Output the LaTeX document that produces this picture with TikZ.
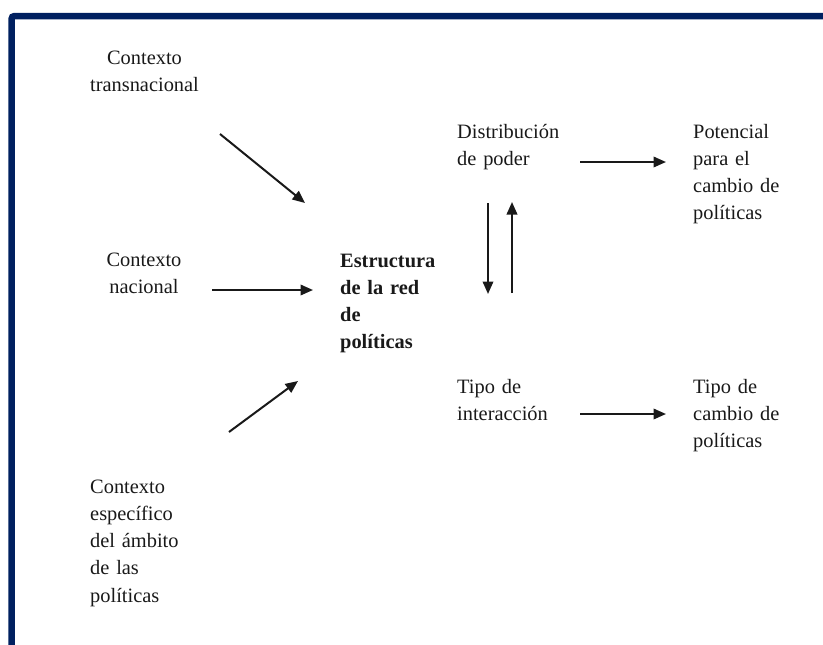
\documentclass[tikz,border=0pt]{standalone}
\usepackage{fontspec}
\setmainfont{Liberation Serif}
\usetikzlibrary{arrows.meta}
\definecolor{marco}{RGB}{0,32,96}
\definecolor{tinta}{RGB}{25,25,25}
\tikzset{
  texto/.style={anchor=base west, inner sep=0pt, text width=150pt, align=left,
    text=tinta, font=\fontsize{20.4}{27.3}\selectfont},
  textoc/.style={texto, anchor=base, align=center},
  flecha/.style={tinta, line width=2pt, -{Triangle[length=12.5pt,width=10.5pt]}}
}
\begin{document}
\begin{tikzpicture}[x=1pt,y=-1pt]
\useasboundingbox (0,0) rectangle (823,645);
\draw [marco, line width=6.5pt, rounded corners=3pt] (11.5,645) -- (11.5,16) -- (823,16);
% contextos
\node [textoc] (trans) at (144.5,64) {Contexto\\transnacional};
\node [textoc] (nac) at (144,266) {Contexto\\nacional};
\node [texto] (espec) at (90,493) {Contexto\\específico\\del ámbito\\de las\\políticas};
% red
\node [texto, font=\fontsize{20.4}{27.3}\selectfont\bfseries] (red) at (340,267) {Estructura\\de la red\\de\\políticas};
\node [texto] (poder) at (457,138) {Distribución\\de poder};
\node [texto] (inter) at (457,393) {Tipo de\\interacción};
\node [texto] (pot) at (693,138) {Potencial\\para el\\cambio de\\políticas};
\node [texto] (tipo) at (693,393) {Tipo de\\cambio de\\políticas};
% extremos de flechas
\coordinate (trans-a) at (220,134);
\coordinate (red-a) at (305,203);
\coordinate (nac-a) at (212,290);
\coordinate (red-b) at (313,290);
\coordinate (espec-a) at (229,432);
\coordinate (red-c) at (298,381);
\coordinate (poder-a) at (580,162);
\coordinate (pot-a) at (666,162);
\coordinate (inter-a) at (580,414);
\coordinate (tipo-a) at (666,414);
\coordinate (baja-a) at (488,203);
\coordinate (baja-b) at (488,294);
\coordinate (sube-a) at (512,293);
\coordinate (sube-b) at (512,202);
\draw [flecha] (trans-a) -- (red-a);
\draw [flecha] (nac-a) -- (red-b);
\draw [flecha] (espec-a) -- (red-c);
\draw [flecha] (poder-a) -- (pot-a);
\draw [flecha] (inter-a) -- (tipo-a);
\draw [flecha] (baja-a) -- (baja-b);
\draw [flecha] (sube-a) -- (sube-b);
\end{tikzpicture}
\end{document}
